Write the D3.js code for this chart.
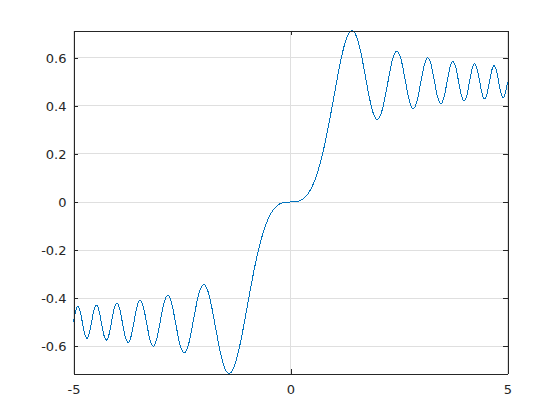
<!DOCTYPE html>
<html>
<head>
<meta charset="utf-8">
<script src="https://cdn.jsdelivr.net/npm/d3@7"></script>
<style>
  html, body { margin: 0; padding: 0; background: #ffffff; }
  svg { display: block; }
</style>
</head>
<body>
<div id="chart"></div>
<script>
// ---- data ----
const xValues = [
  -5, -4.9497, -4.899, -4.8477, -4.7958, -4.7434, -4.6904, -4.6368, -4.5826, -4.5277,
  -4.4721, -4.4159, -4.3589, -4.3012, -4.2426, -4.1833, -4.1231, -4.062, -4, -3.937,
  -3.873, -3.8079, -3.7417, -3.6742, -3.6056, -3.5355, -3.4641, -3.3912, -3.3166, -3.2404,
  -3.1623, -3.0822, -3, -2.9155, -2.8284, -2.7386, -2.6458, -2.5495, -2.4495, -2.3452,
  -2.2361, -2.1213, -2, -1.9, -1.8708, -1.8, -1.7, -1.6, -1.5, -1.4142,
  -1.4, -1.3, -1.2, -1.1, -1, -0.9, -0.8, -0.7, -0.6, -0.5,
  -0.4, -0.3, -0.2, -0.1, 0,
  0.1, 0.2, 0.3, 0.4, 0.5, 0.6, 0.7, 0.8, 0.9, 1,
  1.1, 1.2, 1.3, 1.4, 1.4142, 1.5, 1.6, 1.7, 1.8, 1.8708,
  1.9, 2, 2.1213, 2.2361, 2.3452, 2.4495, 2.5495, 2.6458, 2.7386, 2.8284,
  2.9155, 3, 3.0822, 3.1623, 3.2404, 3.3166, 3.3912, 3.4641, 3.5355, 3.6056,
  3.6742, 3.7417, 3.8079, 3.873, 3.937, 4, 4.062, 4.1231, 4.1833, 4.2426,
  4.3012, 4.3589, 4.4159, 4.4721, 4.5277, 4.5826, 4.6368, 4.6904, 4.7434, 4.7958,
  4.8477, 4.899, 4.9497, 5
];
const yValues = [
  -0.4992, -0.4540, -0.4351, -0.4542, -0.5009, -0.5481, -0.5678, -0.5478, -0.4990, -0.4496,
  -0.4289, -0.4499, -0.5012, -0.5532, -0.5750, -0.5528, -0.4986, -0.4436, -0.4205, -0.4441,
  -0.5017, -0.5603, -0.5849, -0.5597, -0.4979, -0.4349, -0.4083, -0.4356, -0.5027, -0.5714,
  -0.6004, -0.5704, -0.4963, -0.4203, -0.3880, -0.4216, -0.5053, -0.5919, -0.6289, -0.5898,
  -0.4914, -0.3882, -0.3434, -0.3733, -0.3920, -0.4509, -0.5492, -0.6389, -0.6975, -0.7140,
  -0.7135, -0.6863, -0.6234, -0.5365, -0.4383, -0.3398, -0.2493, -0.1721, -0.1105, -0.0647,
  -0.0334, -0.0141, -0.0042, -0.0005, 0,
  0.0005, 0.0042, 0.0141, 0.0334, 0.0647, 0.1105, 0.1721, 0.2493, 0.3398, 0.4383,
  0.5365, 0.6234, 0.6863, 0.7135, 0.7140, 0.6975, 0.6389, 0.5492, 0.4509, 0.3920,
  0.3733, 0.3434, 0.3882, 0.4914, 0.5898, 0.6289, 0.5919, 0.5053, 0.4216, 0.3880,
  0.4203, 0.4963, 0.5704, 0.6004, 0.5714, 0.5027, 0.4356, 0.4083, 0.4349, 0.4979,
  0.5597, 0.5849, 0.5603, 0.5017, 0.4441, 0.4205, 0.4436, 0.4986, 0.5528, 0.5750,
  0.5532, 0.5012, 0.4499, 0.4289, 0.4496, 0.4990, 0.5478, 0.5678, 0.5481, 0.5009,
  0.4542, 0.4351, 0.4540, 0.4992
];
const xTicks = [-5, 0, 5];
const yTicks = [-0.6, -0.4, -0.2, 0, 0.2, 0.4, 0.6];
const xTickLabels = ["-5", "0", "5"];
const yTickLabels = ["-0.6", "-0.4", "-0.2", "0", "0.2", "0.4", "0.6"];
const xDomain = [-5, 5];
const yDomain = [-0.714, 0.714];

// ---- layout ----
const W = 560, H = 420;
const mLeft = 73.5, mRight = 507.5, mTop = 30.5, mBottom = 373.5;
const axisColor = "#262626";
const gridColor = "#dfdfdf";
const lineColor = "#0072bd";
const tickLen = 4.5;
const fontFamily = "'DejaVu Sans', sans-serif";
const fontSize = 13;

const svg = d3.select("#chart").append("svg")
  .attr("width", W).attr("height", H);

const x = d3.scaleLinear().domain(xDomain).range([mLeft, mRight]);
const y = d3.scaleLinear().domain(yDomain).range([mBottom, mTop]);

// grid
const grid = svg.append("g").attr("shape-rendering", "crispEdges");
grid.selectAll("line.gx").data(xTicks).enter().append("line")
  .attr("x1", d => x(d)).attr("x2", d => x(d))
  .attr("y1", mTop).attr("y2", mBottom)
  .attr("stroke", gridColor).attr("stroke-width", 1);
grid.selectAll("line.gy").data(yTicks).enter().append("line")
  .attr("x1", mLeft).attr("x2", mRight)
  .attr("y1", d => y(d)).attr("y2", d => y(d))
  .attr("stroke", gridColor).attr("stroke-width", 1);

// data line
const data = xValues.map((xv, i) => ({ x: xv, y: yValues[i] }));
const line = d3.line()
  .x(d => x(d.x))
  .y(d => y(d.y))
  .curve(d3.curveMonotoneX);
svg.append("path")
  .datum(data)
  .attr("d", line)
  .attr("fill", "none")
  .attr("stroke", lineColor)
  .attr("stroke-width", 1)
  .attr("shape-rendering", "crispEdges");

// axes (box with inward ticks)
function styleAxis(g) {
  g.attr("shape-rendering", "crispEdges");
  g.selectAll("path.domain").attr("stroke", axisColor).attr("stroke-width", 1);
  g.selectAll(".tick line").attr("stroke", axisColor).attr("stroke-width", 1);
  g.selectAll(".tick text")
    .attr("fill", axisColor)
    .style("font-family", fontFamily)
    .style("font-size", fontSize + "px");
}

const xAxisBottom = d3.axisBottom(x).tickValues(xTicks)
  .tickFormat((d, i) => xTickLabels[i])
  .tickSizeInner(-tickLen).tickSizeOuter(0).tickPadding(11);
svg.append("g").attr("transform", `translate(0,${mBottom})`).call(xAxisBottom).call(styleAxis);

const xAxisTop = d3.axisTop(x).tickValues(xTicks).tickFormat("")
  .tickSizeInner(-tickLen).tickSizeOuter(0);
svg.append("g").attr("transform", `translate(0,${mTop})`).call(xAxisTop).call(styleAxis);

const yAxisLeft = d3.axisLeft(y).tickValues(yTicks)
  .tickFormat((d, i) => yTickLabels[i])
  .tickSizeInner(-tickLen).tickSizeOuter(0).tickPadding(7);
svg.append("g").attr("transform", `translate(${mLeft},0)`).call(yAxisLeft).call(styleAxis);

const yAxisRight = d3.axisRight(y).tickValues(yTicks).tickFormat("")
  .tickSizeInner(-tickLen).tickSizeOuter(0);
svg.append("g").attr("transform", `translate(${mRight},0)`).call(yAxisRight).call(styleAxis);
</script>
</body>
</html>
